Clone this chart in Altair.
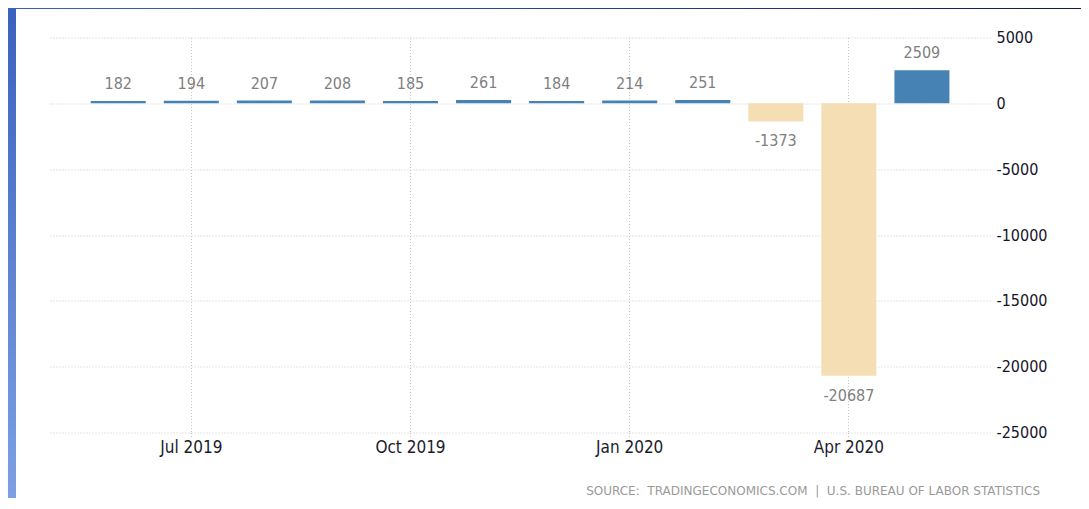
import altair as alt
import pandas as pd

months = ["Jun 2019", "Jul 2019", "Aug 2019", "Sep 2019", "Oct 2019", "Nov 2019",
          "Dec 2019", "Jan 2020", "Feb 2020", "Mar 2020", "Apr 2020", "May 2020"]
values = [182, 194, 207, 208, 185, 261, 184, 214, 251, -1373, -20687, 2509]
tick_months = ["Jul 2019", "Oct 2019", "Jan 2020", "Apr 2020"]
y_ticks = [5000, 0, -5000, -10000, -15000, -20000, -25000]
source_text = "SOURCE:\u00a0 TRADINGECONOMICS.COM \u00a0|\u00a0 U.S. BUREAU OF LABOR STATISTICS"

df = pd.DataFrame({"month": months, "value": values})

W, H = 942, 395
PAD = {"left": 40, "top": 29.5, "right": 91, "bottom": 65.5}

NARROW = "Liberation Sans Narrow, Arial Narrow, DejaVu Sans Condensed, sans-serif"
TAHOMA = "DejaVu Sans Condensed, Tahoma, DejaVu Sans, sans-serif"
GRID = "#c6c6c6"

x_enc = alt.X(
    "month:O", sort=months,
    scale=alt.Scale(domain=months, paddingInner=0.247, paddingOuter=0.57, align=0.513),
    axis=alt.Axis(values=tick_months, title=None, labelAngle=0, grid=True,
                  gridColor=GRID, gridDash=[1, 2], domain=False, ticks=True,
                  tickSize=4, tickColor=GRID, tickDash=[1, 2],
                  labelFont=TAHOMA, labelFontSize=17, labelColor="#1b1b2b",
                  labelPadding=3, bandPosition=0.5),
)
y_enc = alt.Y(
    "value:Q",
    scale=alt.Scale(domain=[-25000, 5000], nice=False, zero=False),
    axis=alt.Axis(orient="right", values=y_ticks, labelExpr="toString(datum.value)",
                  title=None, grid=True, gridColor=GRID, gridDash=[1, 2], domain=False,
                  ticks=False, labelPadding=6, labelAlign="left",
                  labelFont=NARROW, labelFontSize=16, labelColor="#15152a"),
)

base = alt.Chart(df).transform_calculate(label="toString(datum.value)")

bars = base.mark_bar().encode(
    x=x_enc,
    y=y_enc,
    y2=alt.datum(0),
    color=alt.condition(alt.datum.value > 0, alt.value("#4682B4"), alt.value("#F5DEB3")),
)

pos_labels = base.transform_filter(alt.datum.value > 0).mark_text(
    baseline="alphabetic", dy=-12, font=NARROW, fontSize=16, color="#7f7f7f"
).encode(x=alt.X("month:O", sort=months), y="value:Q", text="label:N")

neg_labels = base.transform_filter(alt.datum.value < 0).mark_text(
    baseline="top", dy=12, font=NARROW, fontSize=16, color="#7f7f7f"
).encode(x=alt.X("month:O", sort=months), y="value:Q", text="label:N")

one = alt.Data(values=[{}])

source = alt.Chart(one).mark_text(
    align="right", baseline="middle", font="DejaVu Sans, Verdana, sans-serif",
    fontSize=12, color="#9a9a9a"
).encode(x=alt.value(992), y=alt.value(453.5), text=alt.value(source_text))

left_strip = alt.Chart(one).mark_rect(
    fill={"gradient": "linear", "x1": 0, "y1": 0, "x2": 0, "y2": 1,
          "stops": [{"offset": 0, "color": "#3a62bd"}, {"offset": 1, "color": "#7da0e4"}]}
).encode(x=alt.value(-40), x2=alt.value(-32), y=alt.value(-29.5), y2=alt.value(460.5))

top_strip = alt.Chart(one).mark_rect(
    fill={"gradient": "linear", "x1": 0, "y1": 0, "x2": 1, "y2": 0,
          "stops": [{"offset": 0, "color": "#3a63bf"}, {"offset": 0.6, "color": "#1d3f92"},
                    {"offset": 1, "color": "#0d1c48"}]}
).encode(x=alt.value(-40), x2=alt.value(1033), y=alt.value(-29.5), y2=alt.value(-28.5))

chart = alt.layer(bars, pos_labels, neg_labels, source, left_strip, top_strip).properties(
    width=W, height=H,
    autosize=alt.AutoSizeParams(type="none"),
    padding=PAD,
    background="white",
).configure_view(stroke=None)

chart.save("out.html", embed_options={"renderer": "svg", "actions": False})
